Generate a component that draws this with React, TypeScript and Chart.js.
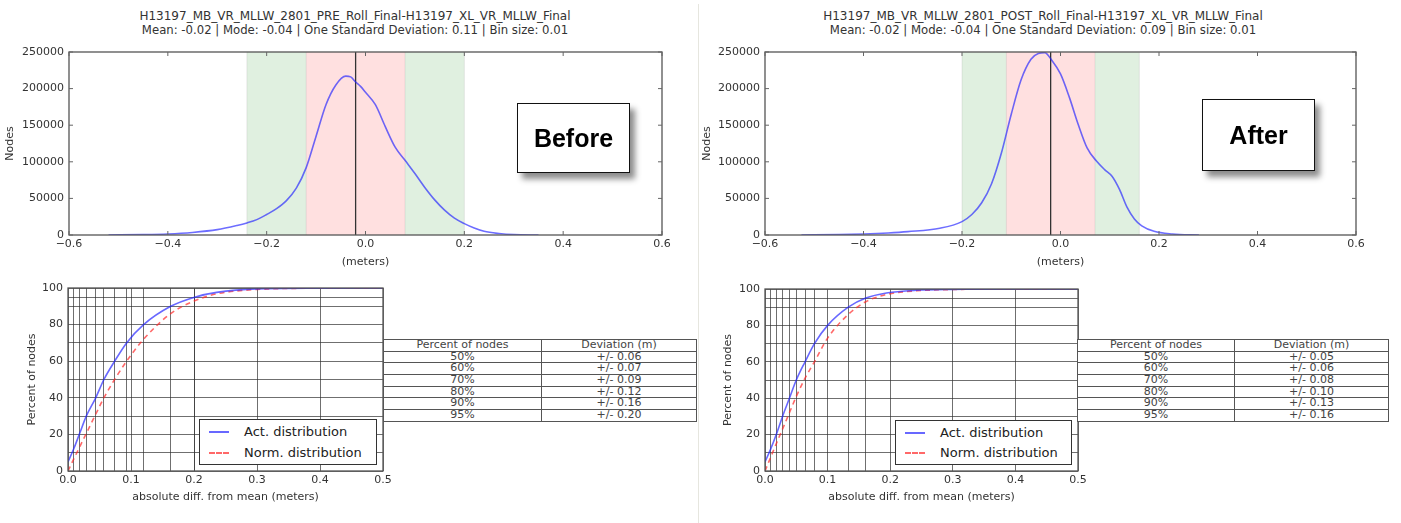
import React, { useEffect, useRef } from 'react';
import { Chart, registerables } from 'chart.js';

Chart.register(...registerables);

const FONT = '"DejaVu Sans", "Bitstream Vera Sans", sans-serif';
const TEXT = '#333';

// ---------------- Data ----------------
const beforeTitle = 'H13197_MB_VR_MLLW_2801_PRE_Roll_Final-H13197_XL_VR_MLLW_Final';
const beforeSubtitle = 'Mean: -0.02 | Mode: -0.04 | One Standard Deviation: 0.11 | Bin size: 0.01';
const afterTitle = 'H13197_MB_VR_MLLW_2801_POST_Roll_Final-H13197_XL_VR_MLLW_Final';
const afterSubtitle = 'Mean: -0.02 | Mode: -0.04 | One Standard Deviation: 0.09 | Bin size: 0.01';

const histXTicks = [-0.6, -0.4, -0.2, 0, 0.2, 0.4, 0.6];
const histYTicks = [0, 50000, 100000, 150000, 200000, 250000];

const beforeHistX = [-0.52, -0.45, -0.4, -0.35, -0.3, -0.26, -0.24, -0.22, -0.2, -0.18, -0.16, -0.14, -0.12, -0.1, -0.08, -0.06, -0.04, -0.03, -0.02, -0.01, 0.0, 0.02, 0.04, 0.06, 0.08, 0.1, 0.12, 0.14, 0.16, 0.18, 0.2, 0.22, 0.24, 0.27, 0.3, 0.35];
const beforeHistY = [0, 500, 1400, 3500, 7300, 13000, 16500, 21000, 28000, 36000, 47000, 64000, 92000, 135000, 178000, 205000, 217000, 216000, 209000, 203000, 195000, 178000, 148000, 120000, 102000, 84000, 65000, 48000, 34000, 23000, 15500, 9500, 5000, 2000, 500, 0];

const afterHistX = [-0.526, -0.45, -0.4, -0.35, -0.31, -0.245, -0.2, -0.18, -0.16, -0.14, -0.12, -0.1, -0.08, -0.06, -0.045, -0.032, -0.018, 0.0, 0.018, 0.036, 0.054, 0.073, 0.09, 0.105, 0.12, 0.135, 0.15, 0.165, 0.19, 0.227, 0.281];
const afterHistY = [0, 600, 1400, 2800, 4600, 9200, 18300, 28000, 44000, 70000, 112000, 165000, 212000, 240000, 248000, 249000, 239000, 220000, 188000, 151000, 119000, 101000, 89000, 80000, 62000, 38000, 22000, 12500, 5000, 1400, 0];

// [2σ low, 1σ low, 1σ high, 2σ high]
const beforeBands = [-0.24, -0.12, 0.08, 0.2];
const afterBands = [-0.2, -0.11, 0.07, 0.16];
const beforeMean = -0.02;
const afterMean = -0.02;

const cdfXMajor = [0, 0.1, 0.2, 0.3, 0.4, 0.5];
const cdfYMajor = [0, 20, 40, 60, 80, 100];
const pctLevels = [10, 20, 30, 40, 50, 60, 70, 80, 90, 95];
const beforePctDev = [0.009, 0.019, 0.029, 0.044, 0.057, 0.074, 0.093, 0.12, 0.163, 0.201];
const afterPctDev = [0.009, 0.018, 0.028, 0.039, 0.05, 0.064, 0.079, 0.1, 0.133, 0.161];

const beforeCdfX = [0, 0.009, 0.019, 0.029, 0.044, 0.057, 0.074, 0.093, 0.12, 0.163, 0.201, 0.236, 0.3, 0.4, 0.5];
const beforeActY = [5, 12, 21, 30, 40, 50, 60, 70, 80, 90, 95, 97.6, 99.5, 99.9, 100];
const beforeNormY = [0, 6.5, 13.5, 20.5, 31, 40, 50, 60, 72, 86, 93, 96.8, 99.2, 99.9, 100];

const afterCdfX = [0, 0.009, 0.018, 0.028, 0.039, 0.05, 0.064, 0.079, 0.1, 0.133, 0.161, 0.194, 0.242, 0.3, 0.4, 0.5];
const afterActY = [5, 12, 20, 30, 40, 50, 60, 70, 80, 90, 95, 97.8, 99.3, 99.8, 100, 100];
const afterNormY = [0, 7.5, 15, 23, 32, 41, 51, 60, 73, 86, 93, 97, 99, 99.7, 100, 100];

const legendLabels = ['Act. distribution', 'Norm. distribution'];
const tableHeader = ['Percent of nodes', 'Deviation (m)'];
const tablePct = ['50%', '60%', '70%', '80%', '90%', '95%'];
const beforeTableDev = ['+/- 0.06', '+/- 0.07', '+/- 0.09', '+/- 0.12', '+/- 0.16', '+/- 0.20'];
const afterTableDev = ['+/- 0.05', '+/- 0.06', '+/- 0.08', '+/- 0.10', '+/- 0.13', '+/- 0.16'];

// ---------------- Helpers ----------------
const fmtSigned = (v: number, d: number) =>
  v < -1e-9 ? '\u2212' + Math.abs(v).toFixed(d) : Math.abs(v).toFixed(d);
const isIn = (arr: number[], v: number) => arr.some((m) => Math.abs(m - v) < 1e-9);

const bandsPlugin = {
  id: 'bands',
  beforeDatasetsDraw(chart: any, _a: any, opts: any) {
    if (!opts || !opts.bands) return;
    const { ctx, chartArea } = chart;
    const { top, bottom } = chartArea;
    const x = chart.scales.x;
    const px = opts.bands.map((v: number) => x.getPixelForValue(v));
    ctx.save();
    ctx.fillStyle = 'rgba(0,128,0,0.12)';
    ctx.fillRect(px[0], top, px[1] - px[0], bottom - top);
    ctx.fillRect(px[2], top, px[3] - px[2], bottom - top);
    ctx.fillStyle = 'rgba(255,0,0,0.12)';
    ctx.fillRect(px[1], top, px[2] - px[1], bottom - top);
    ctx.strokeStyle = 'rgba(0,0,0,0.08)';
    ctx.lineWidth = 1;
    px.forEach((p: number) => {
      ctx.beginPath();
      ctx.moveTo(p, top);
      ctx.lineTo(p, bottom);
      ctx.stroke();
    });
    const m = x.getPixelForValue(opts.mean);
    ctx.strokeStyle = '#333';
    ctx.lineWidth = 1.3;
    ctx.beginPath();
    ctx.moveTo(m, top);
    ctx.lineTo(m, bottom);
    ctx.stroke();
    ctx.restore();
  },
};

const framePlugin = {
  id: 'frame',
  afterDraw(chart: any, _a: any, opts: any) {
    const { ctx, chartArea } = chart;
    const { left, top, right, bottom } = chartArea;
    ctx.save();
    ctx.strokeStyle = '#555';
    ctx.lineWidth = 1.3;
    ctx.strokeRect(left, top, right - left, bottom - top);
    if (opts && opts.tick) {
      const t = opts.tick;
      ctx.lineWidth = 1;
      ctx.strokeStyle = '#666';
      (opts.xTicks || []).forEach((v: number) => {
        const p = chart.scales.x.getPixelForValue(v);
        ctx.beginPath();
        ctx.moveTo(p, bottom);
        ctx.lineTo(p, bottom - t);
        ctx.moveTo(p, top);
        ctx.lineTo(p, top + t);
        ctx.stroke();
      });
      (opts.yTicks || []).forEach((v: number) => {
        const p = chart.scales.y.getPixelForValue(v);
        ctx.beginPath();
        ctx.moveTo(left, p);
        ctx.lineTo(left + t, p);
        ctx.moveTo(right, p);
        ctx.lineTo(right - t, p);
        ctx.stroke();
      });
    }
    ctx.restore();
  },
};

type Geo = {
  cl: number; ct: number; cw: number; ch: number;
  L: number; T: number; R: number; B: number;
  yTitleX: number; xTitleY: number;
};

const LH = 11 * 1.2;
const tickFont = { family: FONT, size: 11 };

function baseScales(geo: Geo, xTitle: string, yTitle: string) {
  return {
    x: {
      type: 'linear',
      afterFit: (s: any) => { s.height = geo.ct + geo.ch - geo.B; },
      border: { display: false },
      ticks: { autoSkip: false, maxRotation: 0, padding: 3, color: TEXT, font: tickFont },
      title: {
        display: true, text: xTitle, color: TEXT, font: tickFont,
        padding: { top: 0, bottom: geo.ct + geo.ch - geo.xTitleY - LH / 2 },
      },
    },
    y: {
      type: 'linear',
      afterFit: (s: any) => { s.width = geo.L - geo.cl; },
      border: { display: false },
      ticks: { autoSkip: false, padding: 5, color: TEXT, font: tickFont },
      title: {
        display: true, text: yTitle, color: TEXT, font: tickFont,
        padding: { top: geo.yTitleX - geo.cl - LH / 2, bottom: 0 },
      },
    },
  } as any;
}

function histConfig(geo: Geo, xs: number[], ys: number[], bands: number[], mean: number) {
  const scales = baseScales(geo, '(meters)', 'Nodes');
  scales.x.min = -0.6;
  scales.x.max = 0.6;
  scales.x.afterBuildTicks = (s: any) => { s.ticks = histXTicks.map((v) => ({ value: v })); };
  scales.x.grid = { display: false, drawTicks: false };
  scales.x.ticks.callback = (v: number) => fmtSigned(v, 1);
  scales.y.min = 0;
  scales.y.max = 250000;
  scales.y.afterBuildTicks = (s: any) => { s.ticks = histYTicks.map((v) => ({ value: v })); };
  scales.y.grid = { display: false, drawTicks: false };
  scales.y.ticks.callback = (v: number) => String(v);
  return {
    type: 'line',
    data: {
      datasets: [{
        data: xs.map((x, i) => ({ x, y: ys[i] })),
        borderColor: 'rgba(30,30,255,0.65)', borderWidth: 1.6, pointRadius: 0,
        cubicInterpolationMode: 'monotone', fill: false,
      }],
    },
    options: {
      animation: false, responsive: false, devicePixelRatio: 1, events: [],
      layout: { padding: { left: 0, top: geo.T - geo.ct, right: geo.cl + geo.cw - geo.R, bottom: 0 } },
      plugins: {
        legend: { display: false }, tooltip: { enabled: false },
        bands: { bands, mean },
        frame: { tick: 4, xTicks: histXTicks, yTicks: histYTicks },
      },
      scales,
    },
    plugins: [bandsPlugin, framePlugin],
  };
}

function cdfConfig(geo: Geo, xs: number[], act: number[], norm: number[], pctDev: number[]) {
  const xt = [...cdfXMajor, ...pctDev.filter((v) => !isIn(cdfXMajor, v))].sort((a, b) => a - b);
  const yt = [0, ...pctLevels, 100];
  const scales = baseScales(geo, 'absolute diff. from mean (meters)', 'Percent of nodes');
  scales.x.min = 0;
  scales.x.max = 0.5;
  scales.x.afterBuildTicks = (s: any) => { s.ticks = xt.map((v) => ({ value: v })); };
  scales.x.grid = { color: 'rgba(50,50,50,0.7)', lineWidth: 1, drawTicks: false };
  scales.x.ticks.callback = (v: number) => (isIn(cdfXMajor, v) ? v.toFixed(1) : '');
  scales.y.min = 0;
  scales.y.max = 100;
  scales.y.afterBuildTicks = (s: any) => { s.ticks = yt.map((v) => ({ value: v })); };
  scales.y.grid = { color: 'rgba(50,50,50,0.7)', lineWidth: 1, drawTicks: false };
  scales.y.ticks.callback = (v: number) => (isIn(cdfYMajor, v) ? String(v) : '');
  return {
    type: 'line',
    data: {
      datasets: [
        {
          label: legendLabels[0],
          data: xs.map((x, i) => ({ x, y: act[i] })),
          borderColor: 'rgba(40,40,255,0.7)', borderWidth: 1.6, pointRadius: 0,
          cubicInterpolationMode: 'monotone', fill: false,
        },
        {
          label: legendLabels[1],
          data: xs.map((x, i) => ({ x, y: norm[i] })),
          borderColor: 'rgba(255,40,40,0.7)', borderWidth: 1.6, borderDash: [5, 4], pointRadius: 0,
          cubicInterpolationMode: 'monotone', fill: false,
        },
      ],
    },
    options: {
      animation: false, responsive: false, devicePixelRatio: 1, events: [],
      layout: { padding: { left: 0, top: geo.T - geo.ct, right: geo.cl + geo.cw - geo.R, bottom: 0 } },
      plugins: { legend: { display: false }, tooltip: { enabled: false }, frame: {} },
      scales,
    },
    plugins: [framePlugin],
  };
}

function ChartCanvas({ geo, config }: { geo: Geo; config: () => any }) {
  const ref = useRef<HTMLCanvasElement>(null);
  useEffect(() => {
    const chart = new Chart(ref.current as HTMLCanvasElement, config());
    return () => chart.destroy();
  }, []);
  return (
    <canvas
      ref={ref}
      width={geo.cw}
      height={geo.ch}
      style={{ position: 'absolute', left: geo.cl, top: geo.ct, width: geo.cw, height: geo.ch }}
    />
  );
}

function Titles({ cx, lines }: { cx: number; lines: string[] }) {
  return (
    <div
      style={{
        position: 'absolute', left: cx - 320, top: 9, width: 640, textAlign: 'center',
        fontFamily: FONT, lineHeight: '14px', color: TEXT, whiteSpace: 'nowrap',
      }}
    >
      <div style={{ fontSize: 12 }}>{lines[0]}</div>
      <div style={{ fontSize: 11.7 }}>{lines[1]}</div>
    </div>
  );
}

function Badge({ left, top, width, height, text }: any) {
  return (
    <div
      style={{
        position: 'absolute', left, top, width, height, boxSizing: 'border-box',
        border: '1.5px solid #111', background: '#fff',
        boxShadow: '5px 6px 6px rgba(0,0,0,0.45)',
        display: 'flex', alignItems: 'center', justifyContent: 'center',
        fontFamily: '"Liberation Sans", Arial, sans-serif', fontWeight: 'bold', fontSize: 25, color: '#000',
      }}
    >
      {text}
    </div>
  );
}

function Legend({ left, top, width, height, row2 }: any) {
  const row = (i: number, y: number) => (
    <div key={i} style={{ position: 'absolute', left: 0, top: y - 8, height: 16, width: '100%' }}>
      <div
        style={{
          position: 'absolute', left: 9, top: 7, width: 20, height: 0,
          borderTop: i === 0 ? '2px solid rgba(40,40,255,0.7)' : '2px dashed rgba(255,40,40,0.7)',
        }}
      />
      <div style={{ position: 'absolute', left: 44, top: 0, lineHeight: '16px', fontSize: 13, fontFamily: FONT, color: '#222', whiteSpace: 'nowrap' }}>
        {legendLabels[i]}
      </div>
    </div>
  );
  return (
    <div style={{ position: 'absolute', left, top, width, height, boxSizing: 'border-box', border: '1.2px solid #333', background: '#fff' }}>
      {row(0, 12)}
      {row(1, row2)}
    </div>
  );
}

function DevTable({ left, top, col1, col2, devs }: any) {
  const rowH = 11.7;
  const rows = [tableHeader, ...tablePct.map((p, i) => [p, devs[i]])];
  const line = '1.5px solid #555';
  return (
    <div
      style={{
        position: 'absolute', left, top, width: col1 + col2, boxSizing: 'border-box',
        borderLeft: line, borderRight: line, borderBottom: line,
        fontFamily: FONT, fontSize: 11, color: '#444', background: '#fff',
      }}
    >
      {rows.map((r, i) => (
        <div key={i} style={{ display: 'flex', height: rowH, boxSizing: 'border-box', borderTop: line, lineHeight: rowH - 1.5 + 'px' }}>
          <div style={{ width: col1, textAlign: 'center', borderRight: line, boxSizing: 'border-box', whiteSpace: 'nowrap', overflow: 'hidden' }}>{r[0]}</div>
          <div style={{ flex: 1, textAlign: 'center', whiteSpace: 'nowrap', overflow: 'hidden' }}>{r[1]}</div>
        </div>
      ))}
    </div>
  );
}

const geoHistBefore: Geo = { cl: 0, ct: 40, cw: 682, ch: 240, L: 69, T: 52, R: 662, B: 235, yTitleX: 10, xTitleY: 262 };
const geoHistAfter: Geo = { cl: 700, ct: 40, cw: 678, ch: 240, L: 765, T: 52, R: 1356, B: 235, yTitleX: 707, xTitleY: 262 };
const geoCdfBefore: Geo = { cl: 0, ct: 276, cw: 402, ch: 247, L: 68, T: 288, R: 383, B: 471, yTitleX: 32, xTitleY: 497 };
const geoCdfAfter: Geo = { cl: 700, ct: 276, cw: 398, ch: 247, L: 765, T: 289, R: 1078, B: 471, yTitleX: 728, xTitleY: 497 };

export default function App() {
  return (
    <div style={{ position: 'absolute', left: 0, top: 0, width: 1401, height: 523, background: '#fff', overflow: 'hidden' }}>
      <div style={{ position: 'absolute', left: 698, top: 4, width: 1, height: 519, background: '#e6e6df' }} />
      <Titles cx={355} lines={[beforeTitle, beforeSubtitle]} />
      <Titles cx={1043} lines={[afterTitle, afterSubtitle]} />
      <ChartCanvas geo={geoHistBefore} config={() => histConfig(geoHistBefore, beforeHistX, beforeHistY, beforeBands, beforeMean)} />
      <ChartCanvas geo={geoHistAfter} config={() => histConfig(geoHistAfter, afterHistX, afterHistY, afterBands, afterMean)} />
      <ChartCanvas geo={geoCdfBefore} config={() => cdfConfig(geoCdfBefore, beforeCdfX, beforeActY, beforeNormY, beforePctDev)} />
      <ChartCanvas geo={geoCdfAfter} config={() => cdfConfig(geoCdfAfter, afterCdfX, afterActY, afterNormY, afterPctDev)} />
      <Badge left={517} top={103} width={113} height={70} text="Before" />
      <Badge left={1202} top={99} width={113} height={72} text="After" />
      <Legend left={199} top={419} width={178} height={46} row2={33} />
      <Legend left={895} top={420} width={177} height={45} row2={32} />
      <DevTable left={383} top={339} col1={158} col2={156} devs={beforeTableDev} />
      <DevTable left={1077} top={339} col1={157} col2={155} devs={afterTableDev} />
    </div>
  );
}
